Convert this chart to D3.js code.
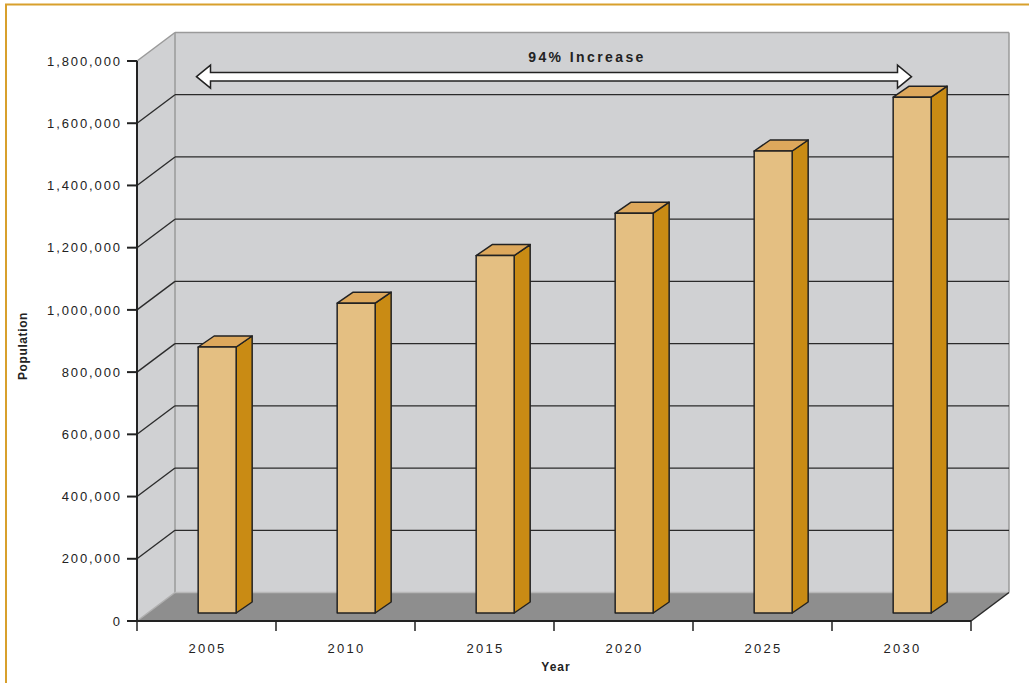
<!DOCTYPE html>
<html>
<head>
<meta charset="utf-8">
<script src="https://cdn.jsdelivr.net/npm/d3@7"></script>
<style>
  html, body { margin: 0; padding: 0; background: #ffffff; }
  svg { display: block; }
  text { font-family: "Liberation Sans", Arial, sans-serif; fill: #222; }
</style>
</head>
<body>
<svg id="chart" width="1029" height="683"></svg>
<script>
// Projected population by year
const years = ["2005", "2010", "2015", "2020", "2025", "2030"];
const population = [855000, 996000, 1149000, 1285000, 1485000, 1658000];
const yTicks = [0, 200000, 400000, 600000, 800000, 1000000, 1200000, 1400000, 1600000, 1800000];

(function () {
const svg = d3.select("#chart");

// Frame
svg.append("rect")
  .attr("x", 6).attr("y", 4.5).attr("width", 1040).attr("height", 700)
  .attr("fill", "none").attr("stroke", "#D8A02C").attr("stroke-width", 2);

// Plot geometry (front plane) and 3-D depth offset
const plotLeft = 137, plotRight = 971, plotBottom = 621, plotTop = 61;
const DX = 38, DY = -28.5;

const x = d3.scaleBand().domain(years).range([plotLeft, plotRight]);
const y = d3.scaleLinear().domain([0, 1800000]).range([plotBottom, plotTop]);

const fmt = d3.format(",");

// Walls
const wallFill = "#D0D1D3";
const wallEdge = "#9a9a9a";
const yMax = y(1800000);

// Left side wall
svg.append("polygon")
  .attr("points", [[plotLeft, yMax], [plotLeft + DX, yMax + DY], [plotLeft + DX, plotBottom + DY], [plotLeft, plotBottom]].join(" "))
  .attr("fill", wallFill);

// Back wall
svg.append("rect")
  .attr("x", plotLeft + DX).attr("y", yMax + DY)
  .attr("width", plotRight - plotLeft).attr("height", plotBottom - plotTop)
  .attr("fill", wallFill);

// Floor
svg.append("polygon")
  .attr("points", [[plotLeft, plotBottom], [plotLeft + DX, plotBottom + DY], [plotRight + DX, plotBottom + DY], [plotRight, plotBottom]].join(" "))
  .attr("fill", "#8E8E8E");

// Wall edges
const edges = svg.append("g").attr("stroke", wallEdge).attr("stroke-width", 1.5).attr("fill", "none");
edges.append("line").attr("x1", plotLeft).attr("y1", yMax).attr("x2", plotLeft + DX).attr("y2", yMax + DY);
edges.append("line").attr("x1", plotLeft + DX).attr("y1", yMax + DY).attr("x2", plotRight + DX).attr("y2", yMax + DY);
edges.append("line").attr("x1", plotLeft + DX).attr("y1", yMax + DY).attr("x2", plotLeft + DX).attr("y2", plotBottom + DY);
edges.append("line").attr("x1", plotRight + DX).attr("y1", yMax + DY).attr("x2", plotRight + DX).attr("y2", plotBottom + DY);
edges.append("line").attr("x1", plotLeft + DX).attr("y1", plotBottom + DY).attr("x2", plotRight + DX).attr("y2", plotBottom + DY).attr("stroke", "#b8b8b8");
edges.append("line").attr("x1", plotLeft).attr("y1", plotBottom).attr("x2", plotLeft + DX).attr("y2", plotBottom + DY).attr("stroke", "#b0b0b0");

// Gridlines: side wall diagonals + back wall horizontals
const grid = svg.append("g").attr("stroke", "#2a2a2a").attr("stroke-width", 1.3);
const gridVals = yTicks.filter(v => v > 0 && v < 1800000);
grid.selectAll("line.diag").data(gridVals).join("line")
  .attr("class", "diag")
  .attr("x1", plotLeft).attr("y1", d => y(d))
  .attr("x2", plotLeft + DX).attr("y2", d => y(d) + DY);
grid.selectAll("line.back").data(gridVals).join("line")
  .attr("class", "back")
  .attr("x1", plotLeft + DX).attr("y1", d => y(d) + DY)
  .attr("x2", plotRight + DX).attr("y2", d => y(d) + DY);

// Floor right edge
svg.append("line")
  .attr("x1", plotRight).attr("y1", plotBottom).attr("x2", plotRight + DX).attr("y2", plotBottom + DY)
  .attr("stroke", "#2a2a2a").attr("stroke-width", 1.5);

// Bars (3-D columns)
const f1 = 8 / 28.5;            // depth fraction of the column's front face
const BW = 38;                  // column width
const bdx = 16, bdy = -11;      // column depth
const bars = svg.append("g").attr("stroke", "#222").attr("stroke-width", 1.5).attr("stroke-linejoin", "round");
years.forEach((yr, i) => {
  const v = population[i];
  const x0 = x(yr) + (x.bandwidth() - BW) / 2 + f1 * DX;
  const yt = y(v) + f1 * DY;
  const yb = y(0) + f1 * DY;
  const g = bars.append("g");
  g.append("polygon")
    .attr("points", [[x0 + BW, yt], [x0 + BW + bdx, yt + bdy], [x0 + BW + bdx, yb + bdy], [x0 + BW, yb]].join(" "))
    .attr("fill", "#C98B14");
  g.append("polygon")
    .attr("points", [[x0, yt], [x0 + BW, yt], [x0 + BW + bdx, yt + bdy], [x0 + bdx, yt + bdy]].join(" "))
    .attr("fill", "#DDA85C");
  g.append("rect")
    .attr("x", x0).attr("y", yt).attr("width", BW).attr("height", yb - yt)
    .attr("fill", "#E4BF82");
});

// Y axis
const axisG = svg.append("g").attr("stroke", "#222");
axisG.append("line").attr("x1", plotLeft).attr("y1", plotTop).attr("x2", plotLeft).attr("y2", plotBottom).attr("stroke-width", 2);
axisG.selectAll("line.yt").data(yTicks).join("line")
  .attr("class", "yt")
  .attr("x1", plotLeft - 10).attr("x2", plotLeft).attr("y1", d => y(d)).attr("y2", d => y(d)).attr("stroke-width", 2);
svg.append("g").selectAll("text").data(yTicks).join("text")
  .attr("x", 122).attr("y", d => y(d)).attr("dy", "0.36em")
  .attr("text-anchor", "end")
  .attr("font-size", 13).attr("letter-spacing", "1.9px")
  .attr("fill", "#2a2a2a")
  .text(d => fmt(d));

// X axis
axisG.append("line").attr("x1", plotLeft).attr("y1", plotBottom).attr("x2", plotRight).attr("y2", plotBottom).attr("stroke-width", 2.2);
const xTickPos = years.map(d => x(d)).concat([plotRight]);
axisG.selectAll("line.xt").data(xTickPos).join("line")
  .attr("class", "xt")
  .attr("x1", d => d).attr("x2", d => d).attr("y1", plotBottom).attr("y2", plotBottom + 10).attr("stroke-width", 1.5);
svg.append("g").selectAll("text").data(years).join("text")
  .attr("x", d => x(d) + x.bandwidth() / 2 + 1).attr("y", 653)
  .attr("text-anchor", "middle")
  .attr("font-size", 13).attr("letter-spacing", "2.3px")
  .attr("fill", "#2a2a2a")
  .text(d => d);

// Axis titles
svg.append("text")
  .attr("x", 556).attr("y", 671).attr("text-anchor", "middle")
  .attr("font-size", 12).attr("font-weight", "bold").attr("letter-spacing", "1px")
  .text("Year");
svg.append("text")
  .attr("transform", "translate(27,346) rotate(-90)")
  .attr("text-anchor", "middle")
  .attr("font-size", 12).attr("font-weight", "bold").attr("letter-spacing", "0.6px")
  .text("Population");

// Growth annotation: double-headed arrow across the columns
const first = population[0], last = population[population.length - 1];
const pct = Math.round((last / first - 1) * 100);
const ax1 = x(years[0]) + x.bandwidth() / 2 - 10;
const ax2 = x(years[years.length - 1]) + x.bandwidth() / 2 + 10;
const ay = y(last) + DY;
const sh = 4.2, hh = 11.5, hl = 14;
svg.append("polygon")
  .attr("points", [
    [ax1, ay], [ax1 + hl, ay - hh], [ax1 + hl, ay - sh], [ax2 - hl, ay - sh],
    [ax2 - hl, ay - hh], [ax2, ay], [ax2 - hl, ay + hh], [ax2 - hl, ay + sh],
    [ax1 + hl, ay + sh], [ax1 + hl, ay + hh]
  ].join(" "))
  .attr("fill", "#ffffff").attr("stroke", "#222").attr("stroke-width", 1.5)
  .attr("stroke-linejoin", "miter");
svg.append("text")
  .attr("x", (ax1 + ax2) / 2 + 33).attr("y", 62)
  .attr("text-anchor", "middle")
  .attr("font-size", 14).attr("font-weight", "bold").attr("letter-spacing", "2.4px")
  .attr("fill", "#2a2a2a")
  .text(pct + "% Increase");
})();
</script>
</body>
</html>
